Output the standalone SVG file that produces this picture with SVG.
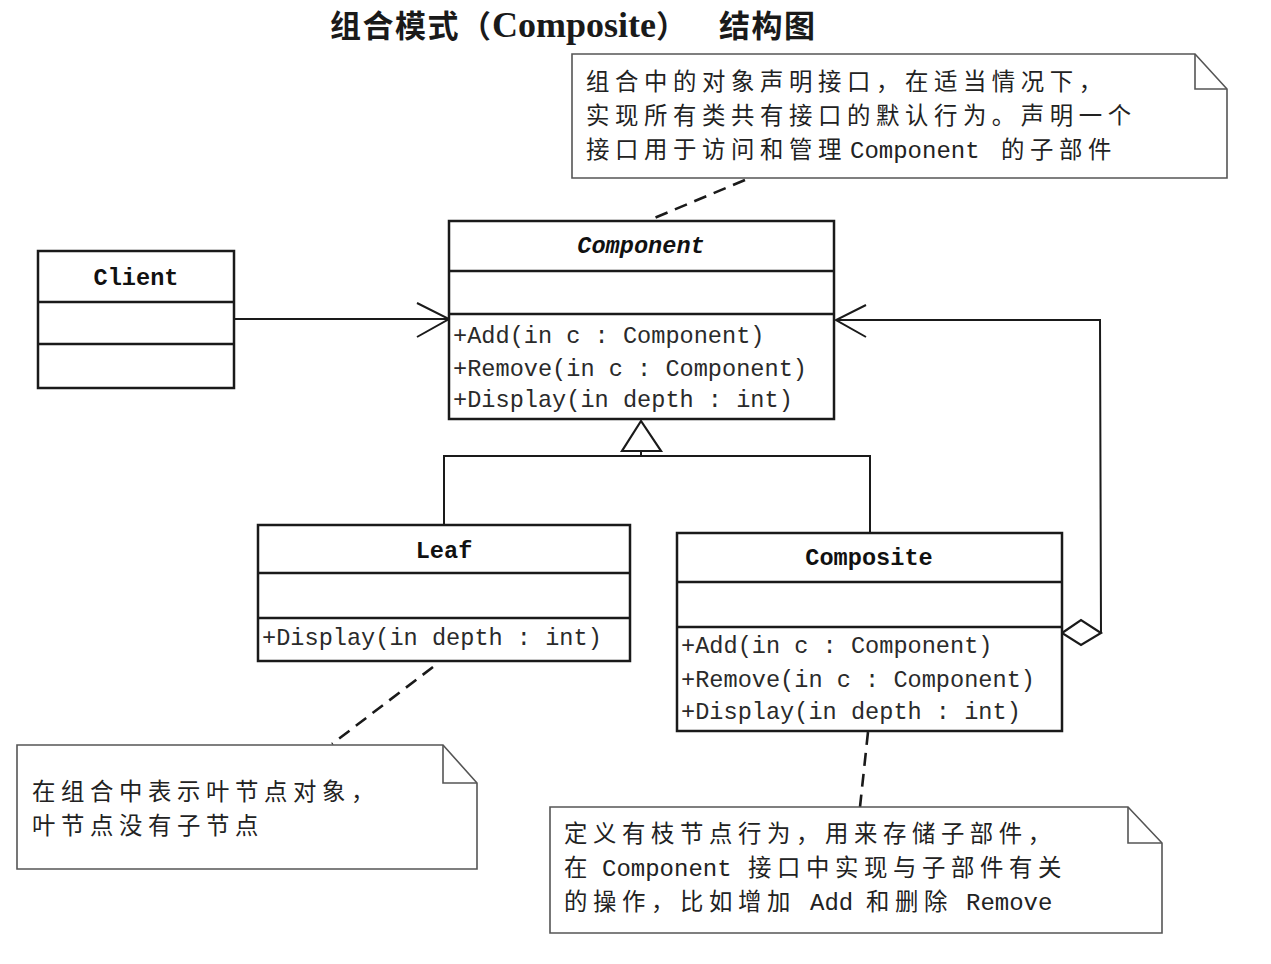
<svg xmlns="http://www.w3.org/2000/svg" width="1271" height="964" viewBox="0 0 1271 964">
<style>
.box{fill:#fff;stroke:#1a1a1a;stroke-width:2.5}
.div{stroke:#1a1a1a;stroke-width:2.5}
.note{fill:#fff;stroke:#555;stroke-width:1.6}
.fold{fill:none;stroke:#555;stroke-width:1.6}
.line{fill:none;stroke:#1a1a1a;stroke-width:2}
.dash{fill:none;stroke:#1a1a1a;stroke-width:2.6;stroke-dasharray:13 8}
.cname{font-family:"Liberation Mono",monospace;font-size:23.6px;font-weight:bold;fill:#111;text-anchor:middle}
.meth{font-family:"Liberation Mono",monospace;font-size:23.6px;fill:#2a2a2a}
.cjk{font-family:"Noto Sans CJK SC",sans-serif;font-size:23.4px;letter-spacing:5.6px;fill:#222}
.lat{font-family:"Liberation Mono",monospace;font-size:24px;letter-spacing:0;fill:#222}
.tcjk{font-family:"Noto Sans CJK SC",sans-serif;font-size:31px;font-weight:bold;letter-spacing:1.5px;fill:#1a1a1a}
.tlat{font-family:"Liberation Serif",serif;font-size:36px;font-weight:bold;fill:#1a1a1a}
</style>
<rect width="1271" height="964" fill="#fff"/>

<g id="title">
<text y="37"><tspan class="tcjk" x="330">组合模式</tspan><tspan class="tcjk" x="460">（</tspan><tspan class="tlat" x="492">Composite</tspan><tspan class="tcjk" x="656">）</tspan><tspan class="tcjk" x="719">结构图</tspan></text>
</g>

<g id="connectors">
<line class="line" x1="234" y1="319" x2="449" y2="319"/>
<polyline class="line" points="417,303 449,319 417,337"/>
<polygon points="641,421 622,451 661,451" fill="#fff" stroke="#1a1a1a" stroke-width="2.2"/>
<line class="line" x1="641" y1="451" x2="641" y2="456"/>
<polyline class="line" points="444,525 444,456 870,456 870,533"/>
<polyline class="line" points="1101,633 1100,320 836,320"/>
<polyline class="line" points="866,305 836,320 866,337"/>
<polygon points="1062,633 1081,620 1101,633 1081,645" fill="#fff" stroke="#1a1a1a" stroke-width="2.2"/>
<line class="dash" x1="745" y1="180" x2="652" y2="219"/>
<line class="dash" x1="433" y1="667" x2="332" y2="744"/>
<line class="dash" x1="868" y1="732" x2="860" y2="807"/>
</g>

<g id="note-component">
<path class="note" d="M572,54 H1195 L1227,89 V178 H572 Z"/>
<path class="fold" d="M1195,54 V89 H1227"/>
<text class="cjk" x="586" y="90">组合中的对象声明接口，在适当情况下，</text>
<text class="cjk" x="586" y="124">实现所有类共有接口的默认行为。声明一个</text>
<text y="158"><tspan class="cjk" x="586">接口用于访问和管理</tspan><tspan class="lat" x="850">Component</tspan><tspan class="cjk" x="1001">的子部件</tspan></text>
</g>

<g id="client">
<rect class="box" x="38" y="251" width="196" height="137"/>
<line class="div" x1="38" y1="302" x2="234" y2="302"/>
<line class="div" x1="38" y1="344" x2="234" y2="344"/>
<text class="cname" x="136" y="285">Client</text>
</g>

<g id="component">
<rect class="box" x="449" y="221" width="385" height="198"/>
<line class="div" x1="449" y1="271" x2="834" y2="271"/>
<line class="div" x1="449" y1="314" x2="834" y2="314"/>
<text class="cname" x="641" y="253" font-style="italic">Component</text>
<text class="meth" x="453" y="343">+Add(in c : Component)</text>
<text class="meth" x="453" y="376">+Remove(in c : Component)</text>
<text class="meth" x="453" y="407">+Display(in depth : int)</text>
</g>

<g id="leaf">
<rect class="box" x="258" y="525" width="372" height="136"/>
<line class="div" x1="258" y1="573" x2="630" y2="573"/>
<line class="div" x1="258" y1="618" x2="630" y2="618"/>
<text class="cname" x="444" y="558">Leaf</text>
<text class="meth" x="262" y="645">+Display(in depth : int)</text>
</g>

<g id="composite">
<rect class="box" x="677" y="533" width="385" height="198"/>
<line class="div" x1="677" y1="582" x2="1062" y2="582"/>
<line class="div" x1="677" y1="627" x2="1062" y2="627"/>
<text class="cname" x="869" y="565">Composite</text>
<text class="meth" x="681" y="653">+Add(in c : Component)</text>
<text class="meth" x="681" y="687">+Remove(in c : Component)</text>
<text class="meth" x="681" y="719">+Display(in depth : int)</text>
</g>

<g id="note-leaf">
<path class="note" d="M17,745 H443 L477,783 V869 H17 Z"/>
<path class="fold" d="M443,745 V783 H477"/>
<text class="cjk" x="32" y="800">在组合中表示叶节点对象，</text>
<text class="cjk" x="32" y="834">叶节点没有子节点</text>
</g>

<g id="note-composite">
<path class="note" d="M550,807 H1128 L1162,843 V933 H550 Z"/>
<path class="fold" d="M1128,807 V843 H1162"/>
<text class="cjk" x="564" y="842">定义有枝节点行为，用来存储子部件，</text>
<text y="876"><tspan class="cjk" x="564">在</tspan><tspan class="lat" x="602">Component</tspan><tspan class="cjk" x="748">接口中实现与子部件有关</tspan></text>
<text y="910"><tspan class="cjk" x="564">的操作，比如增加</tspan><tspan class="lat" x="810">Add</tspan><tspan class="cjk" x="866">和删除</tspan><tspan class="lat" x="966">Remove</tspan></text>
</g>
</svg>
